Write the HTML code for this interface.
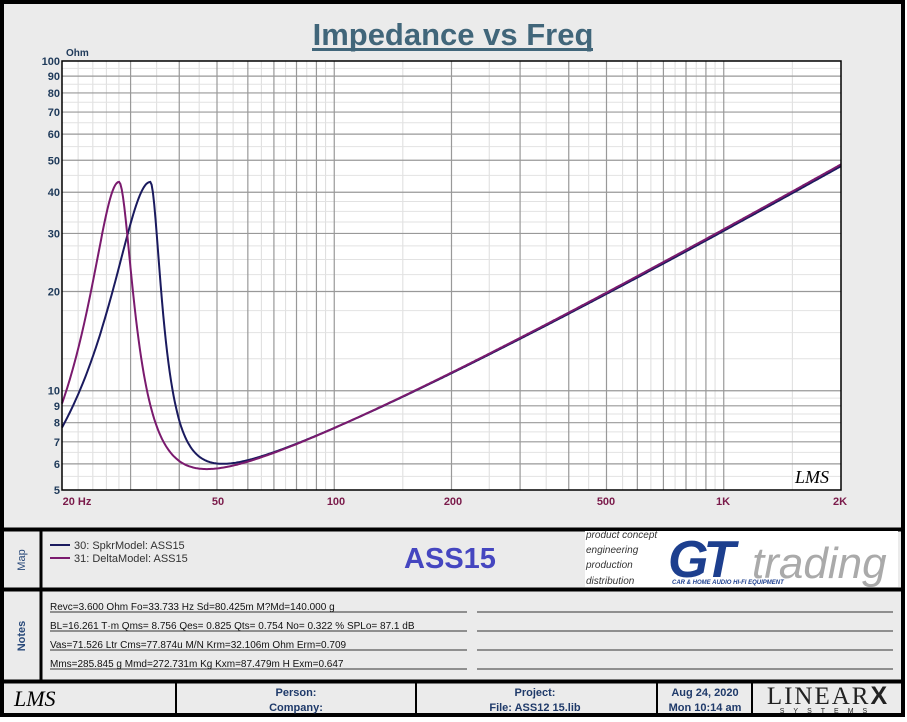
<!DOCTYPE html>
<html><head><meta charset="utf-8"><style>
body{margin:0;background:#fff;font-family:"Liberation Sans",Arial,sans-serif;}
#c{position:relative;width:907px;height:722px;overflow:hidden;background:#fff}
</style></head><body><div id="c">
<svg id="s" width="907" height="722" xmlns="http://www.w3.org/2000/svg" font-family="Liberation Sans, Arial, sans-serif">
<rect x="2" y="2" width="901" height="713" fill="#ebebeb" stroke="#000" stroke-width="4"/>
<line x1="2" y1="529.5" x2="903" y2="529.5" stroke="#000" stroke-width="4"/>
<line x1="2" y1="589.5" x2="903" y2="589.5" stroke="#000" stroke-width="4"/>
<line x1="2" y1="681.5" x2="903" y2="681.5" stroke="#000" stroke-width="4"/>
<line x1="41" y1="530" x2="41" y2="681" stroke="#000" stroke-width="3"/>
<g stroke="#000" stroke-width="2">
<line x1="176" y1="682" x2="176" y2="714"/><line x1="416" y1="682" x2="416" y2="714"/>
<line x1="657" y1="682" x2="657" y2="714"/><line x1="752" y1="682" x2="752" y2="714"/>
</g>
<text x="453" y="45" text-anchor="middle" font-size="31" font-weight="bold" fill="#41667a">Impedance vs Freq</text>
<rect x="312" y="48" width="281" height="3" fill="#41667a"/>
<text x="66" y="56" font-size="10" font-weight="bold" fill="#1f3a5a">Ohm</text>
<rect x="62" y="61" width="779" height="429" fill="#fff"/>
<g id="grid"></g>
<g id="curves"></g>
<rect x="62" y="61" width="779" height="429" fill="none" stroke="#000" stroke-width="1.5"/>
<text x="795" y="483" font-size="18" font-style="italic" fill="#000" font-family="Liberation Serif,serif">LMS</text>
<g id="ylab" font-size="11" font-weight="bold" fill="#1f3a5a" text-anchor="end"></g>
<g font-size="11" font-weight="bold" fill="#7a1a4a" text-anchor="middle">
<text x="77" y="505">20  Hz</text><text x="218" y="505">50</text><text x="336" y="505">100</text>
<text x="453" y="505">200</text><text x="606" y="505">500</text><text x="723" y="505">1K</text><text x="840" y="505">2K</text>
</g>
<text transform="translate(25,560) rotate(-90)" text-anchor="middle" font-size="11" fill="#2a4a7a">Map</text>
<text transform="translate(25,636) rotate(-90)" text-anchor="middle" font-size="11" font-weight="bold" fill="#2a4a7a">Notes</text>
<line x1="50" y1="545" x2="70" y2="545" stroke="#1a1a5e" stroke-width="2"/>
<line x1="50" y1="558" x2="70" y2="558" stroke="#7a1a6e" stroke-width="2"/>
<text x="74" y="549" font-size="11" fill="#333">30: SpkrModel: ASS15</text>
<text x="74" y="562" font-size="11" fill="#333">31: DeltaModel: ASS15</text>
<text x="450" y="568" text-anchor="middle" font-size="29" font-weight="bold" fill="#4546c0">ASS15</text>
<rect x="585" y="531" width="313" height="56" fill="#fff"/>
<g font-size="10" font-style="italic" fill="#333">
<text x="586" y="538">product concept</text><text x="586" y="553">engineering</text>
<text x="586" y="568">production</text><text x="586" y="584">distribution</text></g>
<text x="668" y="577" font-size="52" font-weight="bold" font-style="italic" fill="#1d3f8e" letter-spacing="-5">GT</text>
<text x="752" y="578" font-size="44" font-style="italic" fill="#aaa">trading</text>
<text x="672" y="584" font-size="6" font-style="italic" font-weight="bold" fill="#1d3f8e">CAR &amp; HOME AUDIO HI-FI EQUIPMENT</text>
<g font-size="10" fill="#111">
<text x="50" y="610">Revc=3.600 Ohm  Fo=33.733 Hz  Sd=80.425m M?Md=140.000 g</text>
<text x="50" y="629">BL=16.261 T·m  Qms= 8.756  Qes= 0.825  Qts= 0.754  No= 0.322 %  SPLo= 87.1 dB</text>
<text x="50" y="648">Vas=71.526 Ltr  Cms=77.874u M/N  Krm=32.106m Ohm  Erm=0.709</text>
<text x="50" y="667">Mms=285.845 g  Mmd=272.731m Kg  Kxm=87.479m H  Exm=0.647</text></g>
<g stroke="#333" stroke-width="1">
<line x1="50" y1="612" x2="467" y2="612"/><line x1="477" y1="612" x2="893" y2="612"/>
<line x1="50" y1="631" x2="467" y2="631"/><line x1="477" y1="631" x2="893" y2="631"/>
<line x1="50" y1="650" x2="467" y2="650"/><line x1="477" y1="650" x2="893" y2="650"/>
<line x1="50" y1="669" x2="467" y2="669"/><line x1="477" y1="669" x2="893" y2="669"/></g>
<text x="14" y="706" font-size="22" font-style="italic" font-family="Liberation Serif,serif">LMS</text>
<g font-size="11" font-weight="bold" fill="#1f3a6a" text-anchor="middle">
<text x="296" y="696">Person:</text><text x="296" y="711">Company:</text>
<text x="535" y="696">Project:</text><text x="535" y="711">File: ASS12 15.lib</text>
<text x="705" y="696">Aug 24, 2020</text><text x="705" y="711">Mon 10:14 am</text></g>
<text x="828" y="704" text-anchor="middle" font-size="25" font-family="Liberation Serif,serif" fill="#222" letter-spacing="2">LINEAR<tspan font-weight="bold" font-family="Liberation Sans">X</tspan></text>
<text x="828" y="713" text-anchor="middle" font-size="7" fill="#222" letter-spacing="9">SYSTEMS</text>
</svg></div>
<script>
var NS="http://www.w3.org/2000/svg";
var X0=62,W=779,Y0=61,H=429;
function fx(f){return X0+Math.log10(f/20)/2*W;}
function fy(z){return Y0+H-Math.log10(z/5)/Math.log10(20)*H;}
function el(p,t,a){var e=document.createElementNS(NS,t);for(var k in a)e.setAttribute(k,a[k]);p.appendChild(e);return e;}
var g=document.getElementById('grid');
[22,24,26,28,35,45,55,65,75,85,95,150,250,350,450,550,650,750,850,950,1500].forEach(function(f){el(g,'line',{x1:fx(f),y1:Y0,x2:fx(f),y2:Y0+H,stroke:'#ddd','stroke-width':1});});
[5.5,6.5,7.5,8.5,9.5,12.5,15,17.5,22.5,25,27.5,32.5,35,37.5,45,55,65,75,85,95].forEach(function(z){el(g,'line',{x1:X0,y1:fy(z),x2:X0+W,y2:fy(z),stroke:'#e2e2e2','stroke-width':1});});
[30,40,50,60,70,80,90,100,200,300,400,500,600,700,800,900,1000].forEach(function(f){el(g,'line',{x1:fx(f),y1:Y0,x2:fx(f),y2:Y0+H,stroke:'#999','stroke-width':1.2});});
var yl=document.getElementById('ylab');
[6,7,8,9,10,20,30,40,50,60,70,80,90].forEach(function(z){el(g,'line',{x1:X0,y1:fy(z),x2:X0+W,y2:fy(z),stroke:'#999','stroke-width':1.2});});
[5,6,7,8,9,10,20,30,40,50,60,70,80,90,100].forEach(function(z){var t=el(yl,'text',{x:60,y:fy(z)+4});t.textContent=z;});
function curve(Re,K,n,Res,fs,ql,qh,col){
 var d='';
 for(var i=0;i<=600;i++){var f=20*Math.pow(100,i/600);
  var base=Re+K*Math.pow(f,n);var x=f/fs-fs/f;var q=x<0?ql:qh;
  var z=base+Res/(1+q*q*x*x);
  d+=(i?'L':'M')+fx(f).toFixed(1)+' '+fy(z).toFixed(1);}
 el(document.getElementById('curves'),'path',{d:d,fill:'none',stroke:col,'stroke-width':2});
}
curve(1.6,0.264,0.68,38.5,33.7,2.65,9.5,'#1a1a5e');
curve(1.5,0.268,0.68,38.9,28,3.56,7.3,'#7a1a6e');
</script>
</body></html>
